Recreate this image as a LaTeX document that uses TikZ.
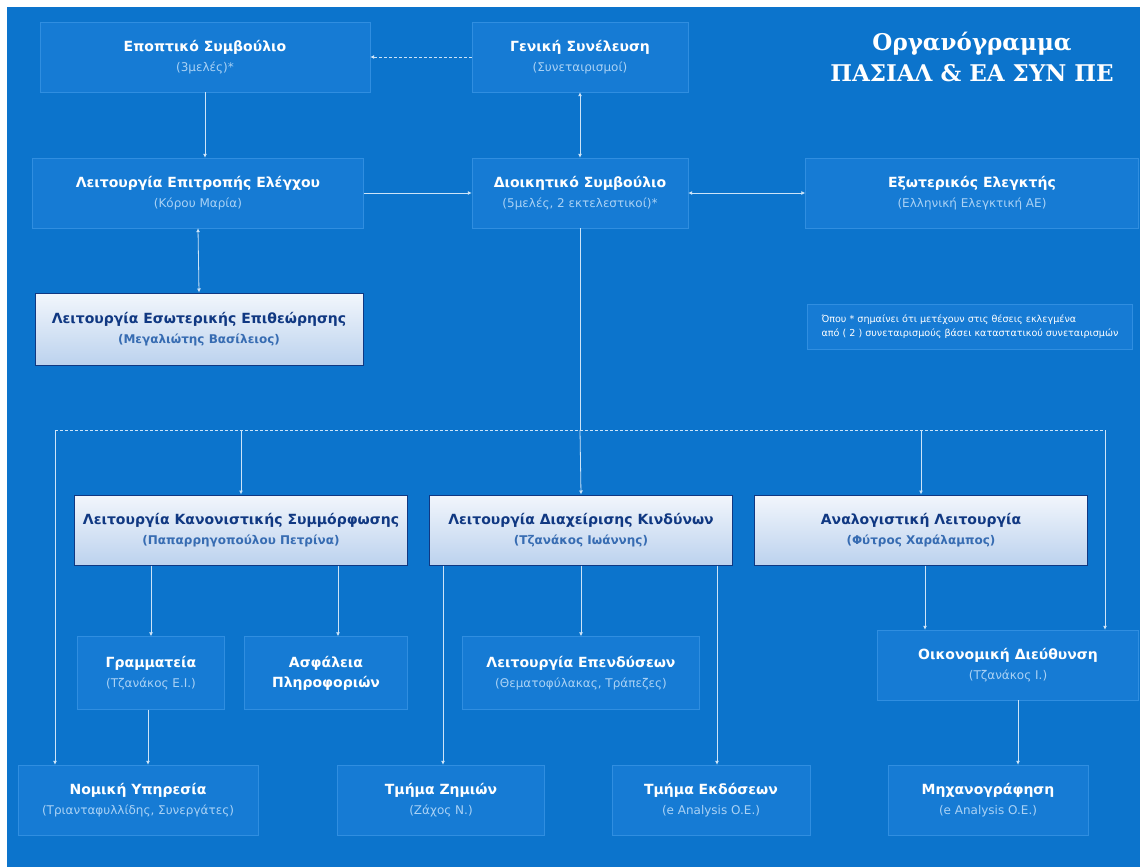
\documentclass[tikz,border=0pt]{standalone}
\usepackage{fontspec}
\setmainfont{DejaVu Sans}
\newfontfamily\titlefont{DejaVu Serif}
\usetikzlibrary{arrows.meta}

\definecolor{bgblue}{RGB}{12,116,204}
\definecolor{boxblue}{RGB}{22,123,212}
\definecolor{boxline}{RGB}{48,142,224}
\definecolor{subtext}{RGB}{170,210,245}
\definecolor{linkcol}{RGB}{205,228,248}
\definecolor{darktext}{RGB}{16,56,130}
\definecolor{midtext}{RGB}{55,108,178}
\definecolor{paletop}{RGB}{242,246,252}
\definecolor{palebot}{RGB}{188,210,238}

\newcommand{\who}[1]{\\[4pt]{\fontsize{12}{14}\mdseries\selectfont\color{subtext}#1}}
\newcommand{\headwho}[1]{\\[4pt]{\fontsize{12}{14}\selectfont\color{midtext}#1}}

\tikzset{
  unit/.style={draw=boxline, fill=boxblue, minimum height=70pt, align=center,
    text=white, inner sep=0pt, font=\bfseries\fontsize{14}{16}\selectfont},
  headunit/.style={unit, draw=darktext, line width=1pt, top color=paletop,
    bottom color=palebot, text=darktext},
  link/.style={draw=linkcol, line width=0.8pt, -{Latex[length=4pt,width=4pt]}},
  twolink/.style={link, {Latex[length=4pt,width=4pt]}-{Latex[length=4pt,width=4pt]}},
  busline/.style={draw=linkcol, line width=0.8pt, densely dashed},
}

\begin{document}
\begin{tikzpicture}[x=1pt,y=-1pt]
    \useasboundingbox (0,0) rectangle (1140,867);
    \fill[white] (0,0) rectangle (1140,867);
    \fill[bgblue] (7,7) rectangle (1140,867);

    % title
    \node[text=white, font=\titlefont\bfseries\fontsize{23}{31}\selectfont, align=center]
        (title) at (972,57) {Οργανόγραμμα\\ΠΑΣΙΑΛ \& ΕΑ ΣΥΝ ΠΕ};

    % top levels
    \node[unit, minimum width=330pt] (epo) at (205,57) {Εποπτικό Συμβούλιο\who{(3μελές)*}};
    \node[unit, minimum width=216pt] (gen) at (580,57) {Γενική Συνέλευση\who{(Συνεταιρισμοί)}};
    \node[unit, minimum width=331pt] (epi) at (198,193) {Λειτουργία Επιτροπής Ελέγχου\who{(Κόρου Μαρία)}};
    \node[unit, minimum width=216pt] (dio) at (580,193) {Διοικητικό Συμβούλιο\who{(5μελές, 2 εκτελεστικοί)*}};
    \node[unit, minimum width=333pt] (ext) at (972,193) {Εξωτερικός Ελεγκτής\who{(Ελληνική Ελεγκτική ΑΕ)}};
    \node[headunit, minimum width=328pt, minimum height=72pt] (esw) at (199,329)
        {Λειτουργία Εσωτερικής Επιθεώρησης\headwho{(Μεγαλιώτης Βασίλειος)}};

    % note
    \node[unit, minimum width=325pt, minimum height=45pt, align=left,
        font=\mdseries\fontsize{9.6}{14}\selectfont] (note) at (970,327)
        {Όπου * σημαίνει ότι μετέχουν στις θέσεις εκλεγμένα\\από ( 2 ) συνεταιρισμούς βάσει καταστατικού συνεταιρισμών};

    % key functions
    \node[headunit, minimum width=333pt] (kan) at (241,530)
        {Λειτουργία Κανονιστικής Συμμόρφωσης\headwho{(Παπαρρηγοπούλου Πετρίνα)}};
    \node[headunit, minimum width=303pt] (kin) at (581,530)
        {Λειτουργία Διαχείρισης Κινδύνων\headwho{(Τζανάκος Ιωάννης)}};
    \node[headunit, minimum width=333pt] (ana) at (921,530)
        {Αναλογιστική Λειτουργία\headwho{(Φύτρος Χαράλαμπος)}};

    % services
    \node[unit, minimum width=147pt, minimum height=73pt] (gra) at (151,673) {Γραμματεία\who{(Τζανάκος Ε.Ι.)}};
    \node[unit, minimum width=163pt, minimum height=73pt] (asf) at (326,673) {Ασφάλεια\\[4pt]Πληροφοριών};
    \node[unit, minimum width=237pt, minimum height=73pt] (epe) at (581,673) {Λειτουργία Επενδύσεων\who{(Θεματοφύλακας, Τράπεζες)}};
    \node[unit, minimum width=261pt] (oik) at (1008,665) {Οικονομική Διεύθυνση\who{(Τζανάκος Ι.)}};

    \node[unit, minimum width=240pt] (nom) at (138,800) {Νομική Υπηρεσία\who{(Τριανταφυλλίδης, Συνεργάτες)}};
    \node[unit, minimum width=207pt] (zim) at (441,800) {Τμήμα Ζημιών\who{(Ζάχος Ν.)}};
    \node[unit, minimum width=198pt] (ekd) at (711,800) {Τμήμα Εκδόσεων\who{(e Analysis O.E.)}};
    \node[unit, minimum width=200pt] (mix) at (988,800) {Μηχανογράφηση\who{(e Analysis O.E.)}};

    % links at the top
    \draw[link, densely dashed] (gen.west) -- (epo.east);
    \draw[link] (epo.south) -- (epo.south |- epi.north);
    \draw[twolink] (gen.south) -- (dio.north);
    \draw[link] (epi.east) -- (dio.west);
    \draw[twolink] (dio.east) -- (ext.west);
    \draw[twolink] (epi.south) -- (esw.north);

    % bus
    \coordinate (bus) at (dio.south |- 0,430);
    \coordinate (busL) at (55,430);
    \coordinate (busR) at (1105,430);
    \draw[draw=linkcol, line width=0.8pt] (dio.south) -- (bus);
    \draw[busline] (busL) -- (busR);
    \draw[link] (busL) -- (busL |- nom.north);
    \draw[link] (busL -| kan.north) -- (kan.north);
    \draw[link] (bus) -- (kin.north);
    \draw[link] (busL -| ana.north) -- (ana.north);
    \draw[link] (busR) -- (busR |- oik.north);

    % lower links
    \draw[link] (gra.north |- kan.south) -- (gra.north);
    \draw[link] ([xshift=12pt]asf.north |- kan.south) -- ([xshift=12pt]asf.north);
    \draw[link] (kin.south) -- (epe.north);
    \draw[link] ([xshift=2pt]zim.north |- kin.south) -- ([xshift=2pt]zim.north);
    \draw[link] ([xshift=6pt]ekd.north |- kin.south) -- ([xshift=6pt]ekd.north);
    \draw[link] ([xshift=-3pt]gra.south) -- ([xshift=-3pt]gra.south |- nom.north);
    \draw[link] ([xshift=4pt]ana.south) -- ([xshift=4pt]ana.south |- oik.north);
    \draw[link] ([xshift=30pt]mix.north |- oik.south) -- ([xshift=30pt]mix.north);

\end{tikzpicture}
\end{document}
